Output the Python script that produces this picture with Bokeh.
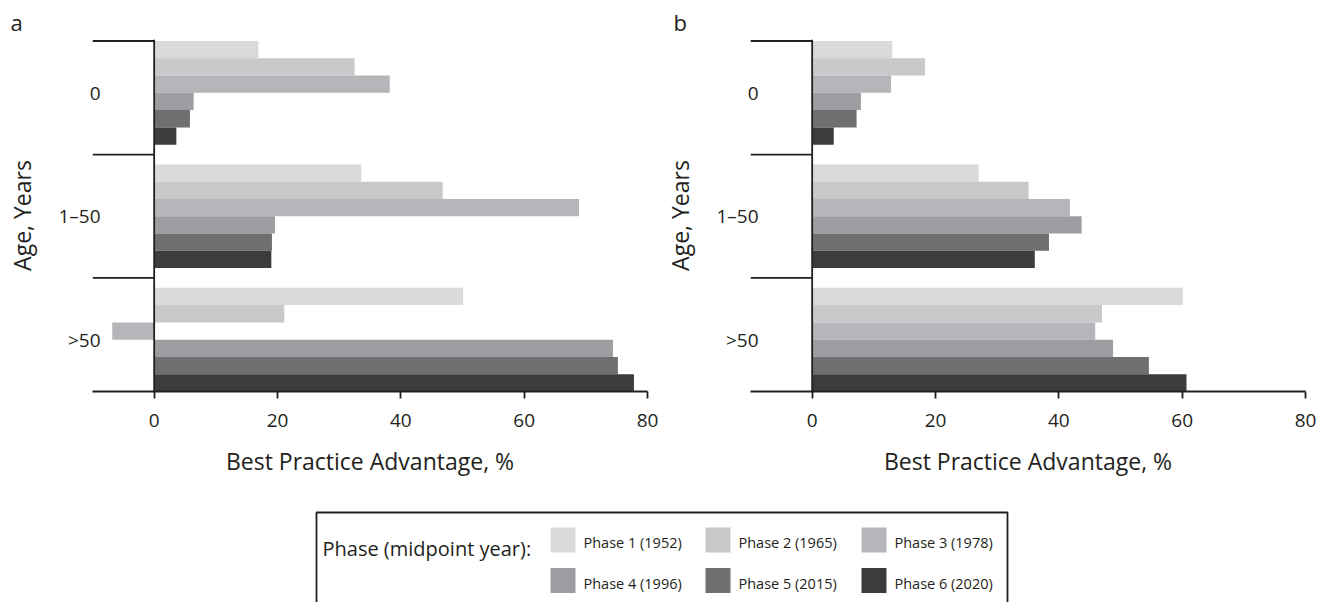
from bokeh.plotting import figure
from bokeh.models import ColumnDataSource, Range1d, FixedTicker, Span
from bokeh.layouts import column, row
from bokeh.embed import file_html
from bokeh.resources import INLINE
from bokeh.core.properties import value

# ---------------- data ----------------
ages = ["0", "1–50", ">50"]
phases = ["Phase 1 (1952)", "Phase 2 (1965)", "Phase 3 (1978)",
          "Phase 4 (1996)", "Phase 5 (2015)", "Phase 6 (2020)"]
colors = ["#d9dadc", "#c8c9cb", "#b5b6b9", "#9d9ea1", "#6e6f71", "#3c3c3c"]

# panel a: best practice advantage (%) per phase, by age group [0, 1–50, >50]
a_phase1 = [16.9, 33.6, 50.1]
a_phase2 = [32.5, 46.8, 21.1]
a_phase3 = [38.2, 68.9, -6.8]
a_phase4 = [6.4, 19.6, 74.4]
a_phase5 = [5.8, 19.1, 75.2]
a_phase6 = [3.6, 19.0, 77.8]

# panel b
b_phase1 = [13.0, 27.0, 60.1]
b_phase2 = [18.3, 35.1, 47.0]
b_phase3 = [12.8, 41.8, 45.9]
b_phase4 = [7.9, 43.7, 48.8]
b_phase5 = [7.2, 38.4, 54.6]
b_phase6 = [3.5, 36.1, 60.7]

x_ticks = [0, 20, 40, 60, 80]
x_min, x_max = -10, 80

# ---------------- style ----------------
INK = "#231f20"
FONT = "Open Sans"
BAR_H = 0.14
LW = 1.8

n_ph = len(phases)
n_age = len(ages)
centers = [n_age - 1 - i for i in range(n_age)]          # top group first
half = BAR_H * n_ph / 2
dividers = [centers[0] + half] + [(centers[i] + centers[i + 1]) / 2 for i in range(n_age - 1)]


def make_panel(tag, series, width, left_border, right_border, tag_dx):
    p = figure(width=width, height=490,
               x_range=Range1d(x_min, x_max),
               y_range=Range1d(-half, centers[0] + half + 0.012),
               output_backend="svg", toolbar_location=None,
               min_border_left=left_border, min_border_right=right_border,
               min_border_top=39, min_border_bottom=99)
    p.outline_line_color = None
    p.grid.visible = False
    p.background_fill_color = "white"

    p.title.text = tag
    p.title.text_font = FONT
    p.title.text_font_size = "22px"
    p.title.text_font_style = "normal"
    p.title.text_color = INK
    p.title.align = "left"
    p.title.offset = tag_dx
    p.title.standoff = 5

    for j, (vals, col) in enumerate(zip(series, colors)):
        off = half - BAR_H * (j + 0.5)
        src = ColumnDataSource(dict(y=[c + off for c in centers], right=vals, age=ages))
        p.hbar(y="y", left=0, right="right", height=BAR_H, source=src,
               fill_color=col, line_color=None)

    # group dividers on the left
    p.segment(x0=[x_min] * len(dividers), y0=dividers, x1=[0] * len(dividers), y1=dividers,
              line_color=INK, line_width=LW)
    p.add_layout(Span(location=0, dimension="height", line_color=INK, line_width=LW))

    # x axis
    xa = p.xaxis[0]
    xa.ticker = FixedTicker(ticks=x_ticks)
    xa.minor_tick_line_color = None
    xa.major_tick_in = 0
    xa.major_tick_out = 7
    xa.major_tick_line_color = INK
    xa.major_tick_line_width = LW
    xa.axis_line_color = INK
    xa.axis_line_width = LW
    xa.major_label_text_font = FONT
    xa.major_label_text_font_size = "19px"
    xa.major_label_text_color = INK
    xa.major_label_standoff = 15
    xa.axis_label = "Best Practice Advantage, %"
    xa.axis_label_text_font = FONT
    xa.axis_label_text_font_size = "23px"
    xa.axis_label_text_font_style = "normal"
    xa.axis_label_text_color = INK
    xa.axis_label_standoff = 15

    # y axis (category labels)
    ya = p.yaxis[0]
    ya.ticker = FixedTicker(ticks=centers)
    ya.major_label_overrides = {c: a for c, a in zip(centers, ages)}
    ya.axis_line_color = None
    ya.major_tick_line_color = None
    ya.minor_tick_line_color = None
    ya.major_tick_in = 0
    ya.major_tick_out = 0
    ya.major_label_standoff = -8
    ya.major_label_text_font = FONT
    ya.major_label_text_font_size = "19px"
    ya.major_label_text_color = INK
    ya.axis_label = "Age, Years"
    ya.axis_label_text_font = FONT
    ya.axis_label_text_font_size = "23px"
    ya.axis_label_text_font_style = "normal"
    ya.axis_label_text_color = INK
    ya.axis_label_standoff = 17
    return p


pa = make_panel("a", [a_phase1, a_phase2, a_phase3, a_phase4, a_phase5, a_phase6],
                661, 92, 14, -82)
pb = make_panel("b", [b_phase1, b_phase2, b_phase3, b_phase4, b_phase5, b_phase6],
                670, 89, 26, -77)

# ---------------- legend ----------------
LG_W, LG_H = 1331, 112
leg = figure(width=LG_W, height=LG_H, x_range=Range1d(0, LG_W), y_range=Range1d(LG_H, 0),
             output_backend="svg", toolbar_location=None, x_axis_type=None, y_axis_type=None,
             min_border=0)
leg.outline_line_color = None
leg.grid.visible = False

box_l, box_r, box_t = 316, 1007, 22
leg.quad(left=box_l, right=box_r, top=box_t, bottom=LG_H + 20,
         fill_color=None, line_color=INK, line_width=LW)

col_x = [562.5, 717.5, 873.5]
row_y = [49.5, 90.0]
sw_x = [col_x[i % 3] for i in range(n_ph)]
sw_y = [row_y[i // 3] for i in range(n_ph)]
leg_src = ColumnDataSource(dict(x=sw_x, y=sw_y, tx=[x + 20.5 for x in sw_x],
                                ty=[y + 2.5 for y in sw_y], color=colors, label=phases))
leg.rect(x="x", y="y", width=25, height=25, fill_color="color", line_color=None, source=leg_src)
leg.text(x="tx", y="ty", text="label", source=leg_src, text_font=value(FONT),
         text_font_size="14.5px", text_color=INK, text_baseline="middle", text_align="left")
leg.text(x=[322], y=[58], text=["Phase (midpoint year):"], text_font=value(FONT),
         text_font_size="20px", text_color=INK, text_baseline="middle", text_align="left")

layout = column(row(pa, pb, spacing=0), leg, spacing=0)

open("out.html", "w").write(file_html(layout, INLINE))
